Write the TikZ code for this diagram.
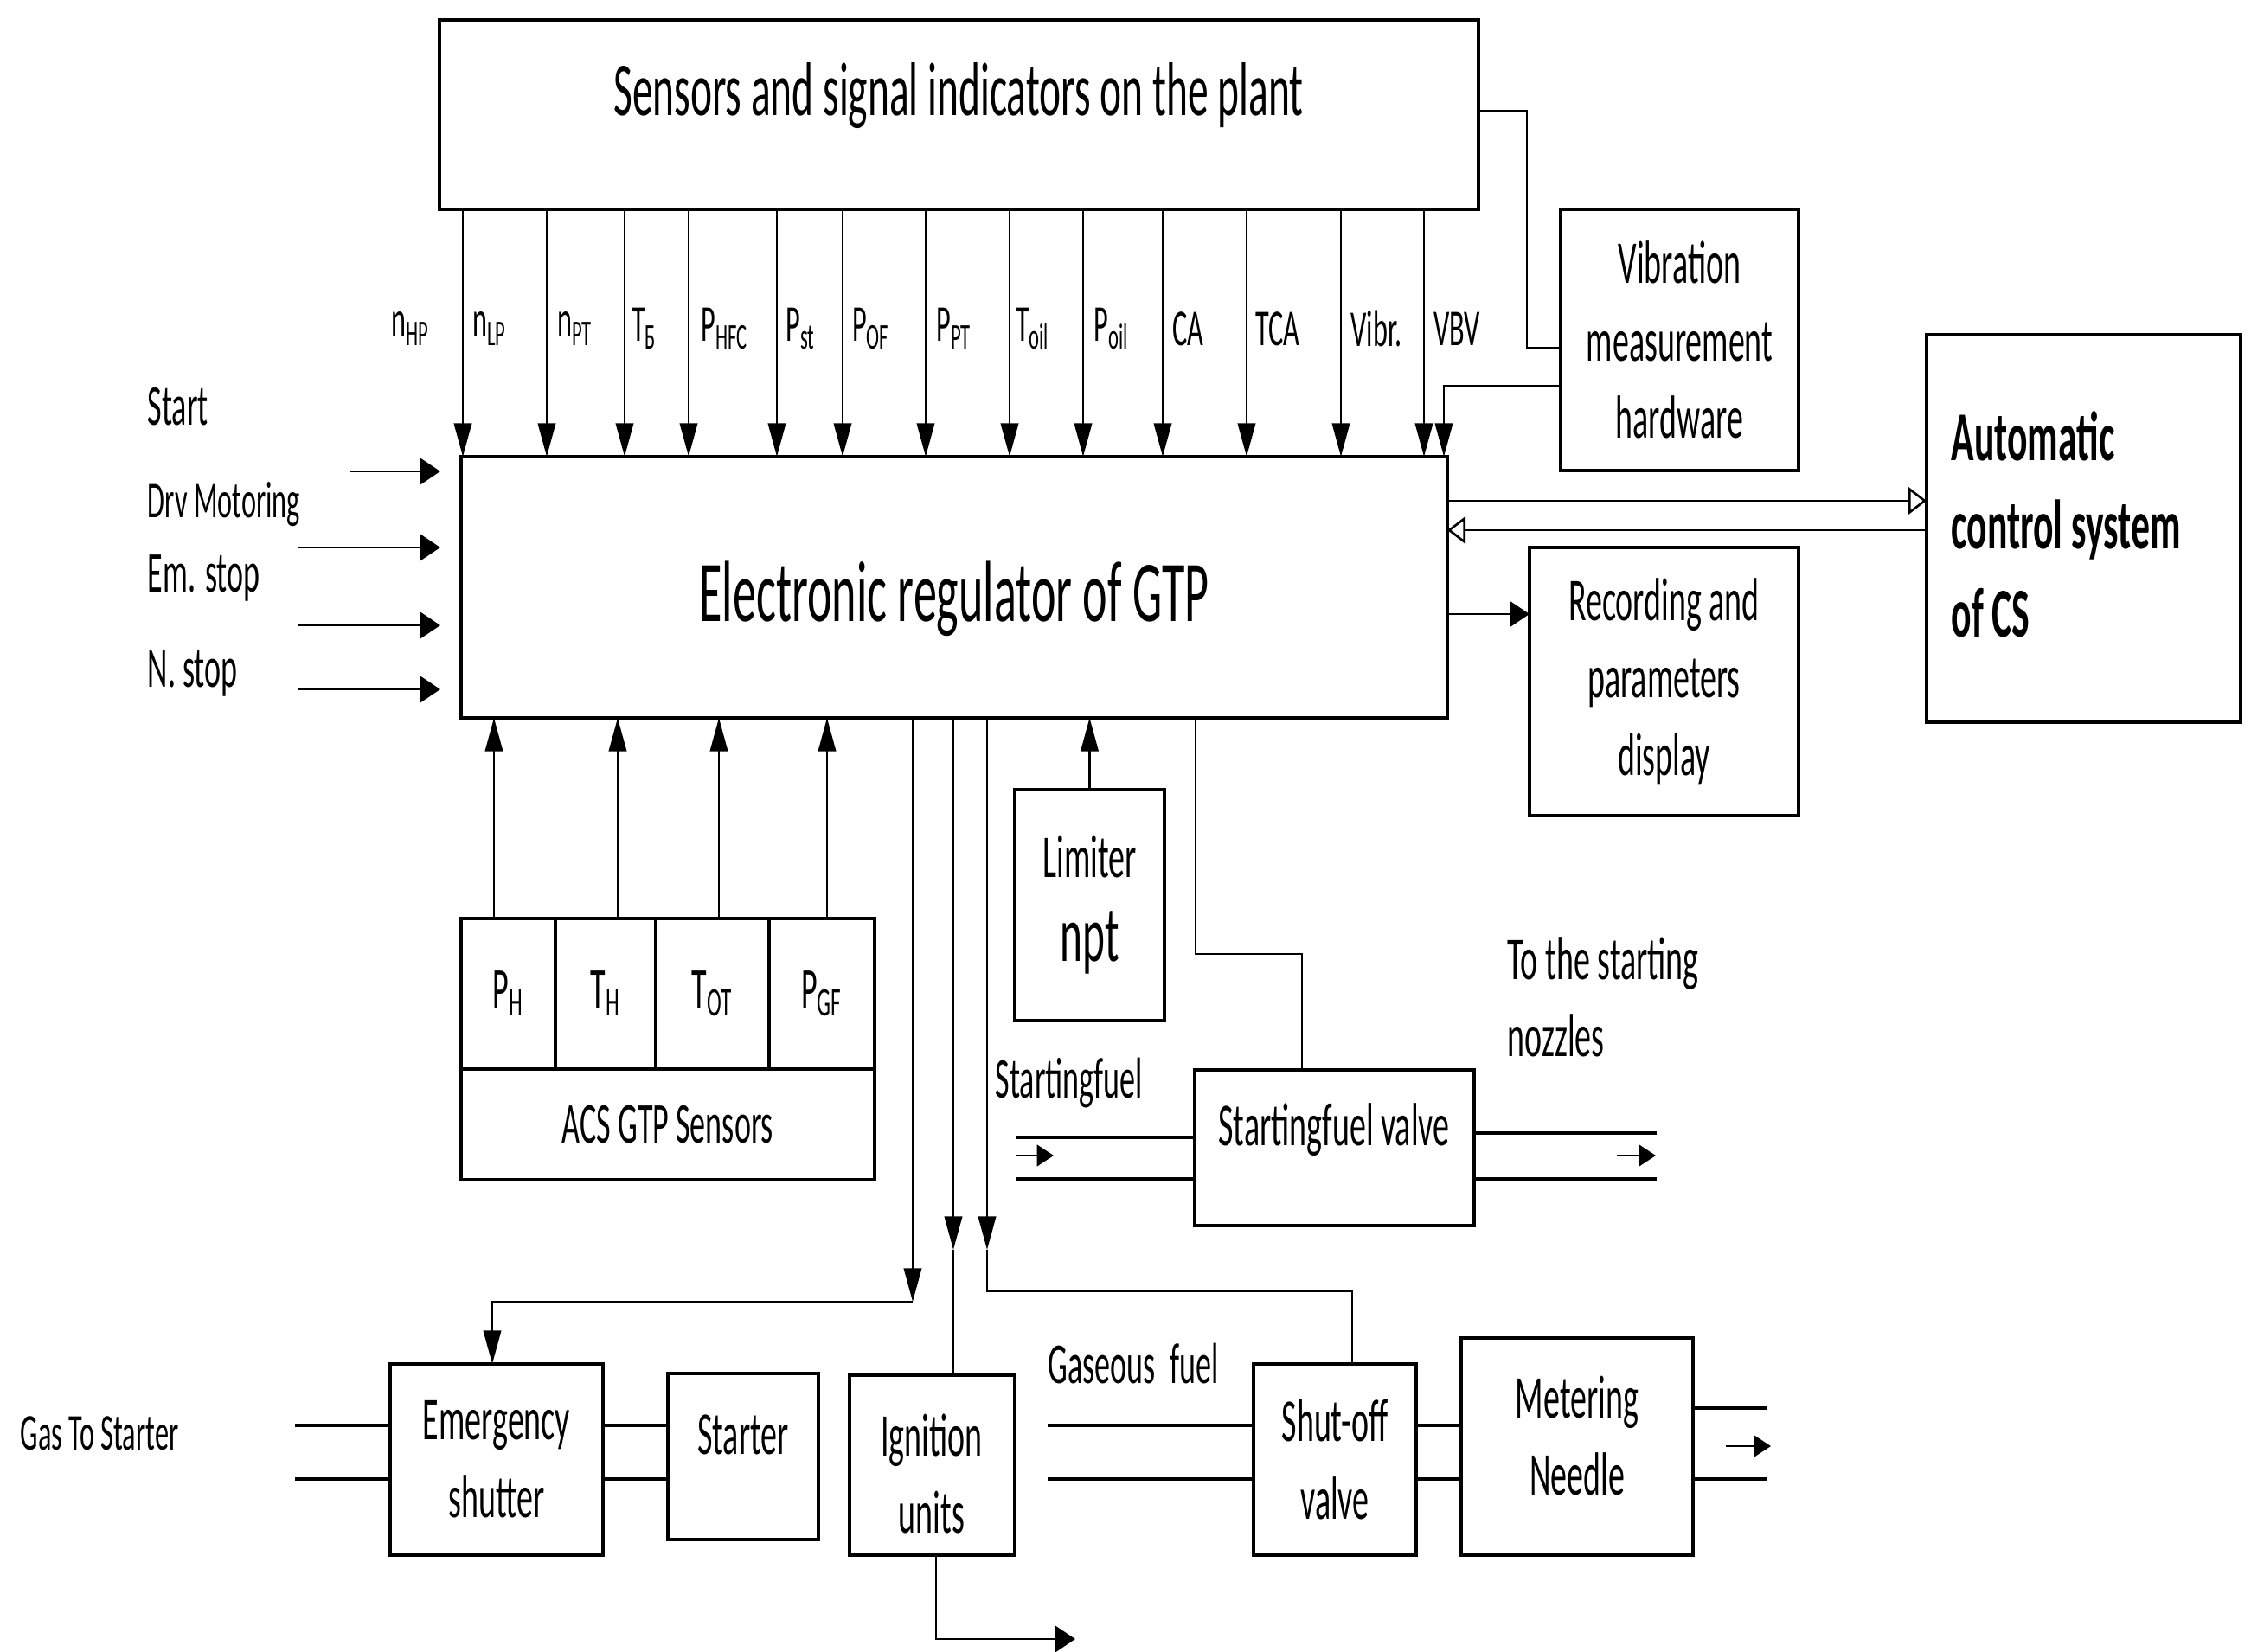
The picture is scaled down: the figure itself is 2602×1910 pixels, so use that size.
\documentclass[tikz,border=0pt]{standalone}
\usepackage{fontspec}
\setmainfont{Carlito}[FakeStretch=0.54]
\usetikzlibrary{arrows.meta}

% font sizes used in the diagram
\newcommand\szhuge{\fontsize{28.5}{32}\selectfont}
\newcommand\szbig{\fontsize{25}{30}\selectfont}
\newcommand\szbox{\fontsize{20}{25.5}\selectfont}
\newcommand\szsig{\fontsize{17}{20}\selectfont}
\newcommand\szin{\fontsize{19}{22}\selectfont}
\newcommand\sub[1]{\textsubscript{#1}}

% block given by its corner coordinates (x1,y1) and (x2,y2)
\newcommand\blk[7][]{%
  \node[blk,#1,minimum width={(#5-#3)*0.01cm},minimum height={(#6-#4)*0.01cm}]
    (#2) at ({(#3+#5)/2},{(#4+#6)/2}) {#7};}

\tikzset{
  blk/.style={draw,line width=0.9pt,inner sep=0pt,outer sep=0pt,align=center,font=\szbox},
  txt/.style={inner sep=0pt,align=center,font=\szbox},
  wire/.style={line width=0.75pt},
  pipe/.style={line width=1.1pt},
  darr/.style={wire,-{Triangle[length=11pt,width=5.8pt]}},
  harr/.style={wire,-{Triangle[length=6.5pt,width=8.5pt]}},
  parr/.style={wire,-{Triangle[length=5.5pt,width=7pt]}},
  oarr/.style={wire,-{Triangle[open,length=6pt,width=9pt]}},
  sig/.style={font=\szsig,inner sep=0pt},
  lbl/.style={font=\szin,inner sep=0pt,anchor=west,align=left},
}

\begin{document}
\begin{tikzpicture}[x=0.01cm,y=-0.01cm]
\useasboundingbox (0,0) rectangle (2602,1910);

% ---- main blocks
\blk{sens}{508}{23}{1709}{242}{}
\node[txt,font=\szbig] (senstxt) at (1108,111) {Sensors and signal indicators on the plant};
\blk{reg}{533}{528}{1673}{830}{}
\node[txt,font=\szhuge] (regtxt) at (1103,692) {Electronic regulator of GTP};
\blk{vib}{1804}{242}{2079}{544}{Vibration\\measurement\\hardware}
\blk{rec}{1768}{633}{2079}{943}{Recording and\\parameters\\display}
\blk{auto}{2227}{387}{2590}{835}{}
\node[anchor=west,align=left,inner sep=0pt,font=\fontsize{23}{29}\selectfont\bfseries]
  (autotxt) at (2255,606) {Automatic\\control system\\of CS};
\blk{lim}{1173}{913}{1346}{1180}{Limiter\\[2pt]{\fontsize{26}{28}\selectfont npt}}

% ---- ACS GTP sensor block
\blk{acsg}{533}{1062}{1011}{1364}{}
\blk[font=\szin]{c1}{533}{1062}{642}{1236}{P\sub{H}}
\blk[font=\szin]{c2}{642}{1062}{758}{1236}{T\sub{H}}
\blk[font=\szin]{c3}{758}{1062}{889}{1236}{T\sub{OT}}
\blk[font=\szin]{c4}{889}{1062}{1011}{1236}{P\sub{GF}}
\blk[font=\szin]{c5}{533}{1236}{1011}{1364}{ACS GTP Sensors}

% ---- fuel and starting blocks
\blk{sfv}{1381}{1237}{1704}{1417}{}
\node[txt] (sfvtxt) at (1542,1306) {Startingfuel valve};
\blk{em}{451}{1577}{697}{1798}{Emergency\\shutter}
\blk{starter}{772}{1588}{946}{1780}{}
\node[txt] (startertxt) at (859,1659) {Starter};
\blk{ign}{982}{1590}{1173}{1798}{}
\node[txt] (igntxt) at (1077,1704) {Ignition\\units};
\blk{shut}{1449}{1577}{1637}{1798}{Shut-off\\valve}
\blk{meter}{1689}{1547}{1957}{1798}{}
\node[txt] (metertxt) at (1823,1660) {Metering\\Needle};

% ---- measured signals from the plant sensors
\foreach \x [count=\i] in {535,632,722,796,898,974,1070,1167,1252,1344,1441,1550,1646}{
  \coordinate (sx\i) at (\x,0);
  \draw[darr] (sens.south -| sx\i) -- (reg.north -| sx\i);
}
\foreach \t/\x [count=\i] in {n\sub{HP}/475,n\sub{LP}/566,n\sub{PT}/665,T\sub{Б}/745,
    P\sub{HFC}/838,P\sub{st}/926,P\sub{OF}/1007,P\sub{PT}/1103,T\sub{oil}/1194,
    P\sub{oil}/1285,CA/1373,TCA/1477,Vibr./1591,VBV/1684}{
  \node[sig] (lab\i) at (\x,380) {\t};
}

% ---- vibration hardware loop
\coordinate (k9) at (1765,128);
\coordinate (k10) at (1765,402);
\draw[wire] (sens.east |- k9) -- (k9) -- (k10) -- (vib.west |- k10);
\coordinate (k11) at (1669,446);
\draw[darr] (vib.west |- k11) -- (k11) -- (reg.north -| k11);

% ---- links to the automatic control system and the display
\coordinate (k12) at (0,579);
\coordinate (k13) at (0,613);
\draw[oarr] (reg.east |- k12) -- (auto.west |- k12);
\draw[oarr] (auto.west |- k13) -- (reg.east |- k13);
\coordinate (k14) at (0,710);
\draw[harr] (reg.east |- k14) -- (rec.west |- k14);

% ---- discrete commands on the left
\coordinate (s1) at (405,545);  \coordinate (e1) at (509,545);
\coordinate (s2) at (345,633);  \coordinate (e2) at (509,633);
\coordinate (s3) at (345,723);  \coordinate (e3) at (509,723);
\coordinate (s4) at (345,797);  \coordinate (e4) at (509,797);
\draw[harr] (s1) -- (e1);
\draw[harr] (s2) -- (e2);
\draw[harr] (s3) -- (e3);
\draw[harr] (s4) -- (e4);
\node[lbl] (lstart) at (170,470) {Start};
\node[lbl,font=\fontsize{17}{20}\selectfont] (ldrv) at (170,583) {Drv Motoring};
\node[lbl] (lem) at (170,668) {Em. stop};
\node[lbl] (lns) at (170,778) {N. stop};

% ---- inputs from the ACS GTP sensors and the limiter
\foreach \x [count=\i] in {571,714,831,956}{
  \coordinate (ax\i) at (\x,0);
  \draw[darr] (acsg.north -| ax\i) -- (reg.south -| ax\i);
}
\draw[darr] (lim.north) -- (reg.south -| lim.north);

% ---- outputs to the starting fuel valve
\coordinate (k7) at (1382,1103);
\coordinate (k8) at (1505,1103);
\draw[wire] (reg.south -| k7) -- (k7) -- (k8) -- (sfv.north -| k8);

% ---- outputs to the shutter, ignition and shut-off valve
\coordinate (k1) at (1055,1505);
\coordinate (ex) at (569,0);
\draw[darr] (reg.south -| k1) -- (k1);
\draw[darr] (k1) -| (em.north -| ex);
\coordinate (k2) at (1102,1445);
\draw[darr] (reg.south -| k2) -- (k2);
\draw[wire] (k2) -- (ign.north -| k2);
\coordinate (k3) at (1141,1445);
\coordinate (k4) at (1563,1493);
\draw[darr] (reg.south -| k3) -- (k3);
\draw[wire] (k3) |- (k4) -- (shut.north -| k4);
\coordinate (k5) at (1082,1895);
\coordinate (k6) at (1243,1895);
\draw[harr] (ign.south -| k5) -- (k5) -- (k6);

% ---- starting fuel line
\coordinate (q1) at (1175,1315);  \coordinate (q2) at (1175,1363);
\coordinate (q3) at (1915,1310);  \coordinate (q4) at (1915,1363);
\draw[pipe] (q1) -- (sfv.west |- q1);
\draw[pipe] (q2) -- (sfv.west |- q2);
\draw[pipe] (sfv.east |- q3) -- (q3);
\draw[pipe] (sfv.east |- q4) -- (q4);
\coordinate (q5) at (1175,1336);  \coordinate (q6) at (1218,1336);
\coordinate (q7) at (1869,1336);  \coordinate (q8) at (1914,1336);
\draw[parr] (q5) -- (q6);
\draw[parr] (q7) -- (q8);
\node[lbl] (lsf) at (1150,1252) {Startingfuel};
\node[lbl,font=\szbox] (lnoz) at (1742,1153) {To the starting\\nozzles};

% ---- gas lines
\coordinate (p1) at (341,1648);  \coordinate (p2) at (341,1710);
\draw[pipe] (p1) -- (em.west |- p1);
\draw[pipe] (p2) -- (em.west |- p2);
\draw[pipe] (em.east |- p1) -- (starter.west |- p1);
\draw[pipe] (em.east |- p2) -- (starter.west |- p2);
\coordinate (p3) at (1211,1648);  \coordinate (p4) at (1211,1710);
\draw[pipe] (p3) -- (shut.west |- p3);
\draw[pipe] (p4) -- (shut.west |- p4);
\draw[pipe] (shut.east |- p1) -- (meter.west |- p1);
\draw[pipe] (shut.east |- p2) -- (meter.west |- p2);
\coordinate (p5) at (2043,1628);  \coordinate (p6) at (2043,1710);
\draw[pipe] (meter.east |- p5) -- (p5);
\draw[pipe] (meter.east |- p6) -- (p6);
\coordinate (p7) at (1995,1672);  \coordinate (p8) at (2047,1672);
\draw[parr] (p7) -- (p8);
\node[lbl,font=\szsig] (lgas) at (23,1657) {Gas To Starter};
\node[lbl] (lgf) at (1211,1577) {Gaseous\ \ fuel};

\end{tikzpicture}
\end{document}
